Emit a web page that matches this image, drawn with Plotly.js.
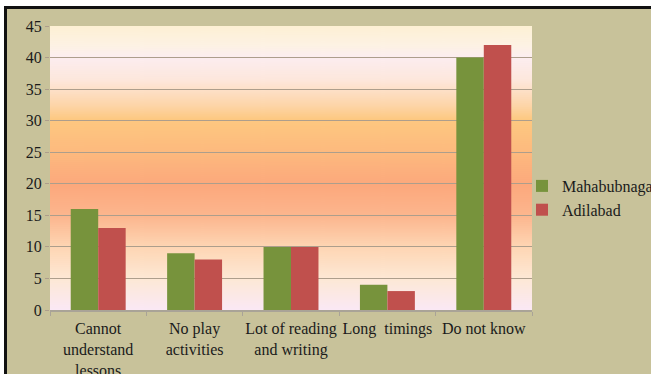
<!DOCTYPE html>
<html>
<head>
<meta charset="utf-8">
<script src="https://cdn.plot.ly/plotly-3.0.1.min.js"></script>
<style>
html,body{margin:0;padding:0;background:#c8c29a;}
#chart{width:651px;height:374px;}
</style>
</head>
<body>
<div id="chart"></div>
<script>
// ---- data ----
var categories = ["Cannot<br>understand<br>lessons", "No play<br>activities", "Lot of reading<br>and writing", "Long  timings", "Do not know"];
var mahabubnagar = [16, 9, 10, 4, 40];
var adilabad = [13, 8, 10, 3, 42];
var seriesNames = ["Mahabubnagar", "Adilabad"];
var yTicks = [0, 5, 10, 15, 20, 25, 30, 35, 40, 45];

// ---- geometry helpers ----
var W = 651, H = 374;
var M = {l: 50, r: 119, t: 26, b: 64, autoexpand: false};
var PW = W - M.l - M.r, PH = H - M.t - M.b;
function px(x) { return (x - M.l) / PW; }
function py(y) { return (H - M.b - y) / PH; }

// ---- gradient background for plot area ----
var cv = document.createElement('canvas');
cv.width = 8; cv.height = 284;
var ctx = cv.getContext('2d');
var g = ctx.createLinearGradient(0, 0, 0, 284);
var stops = [
  [0.00, '#fdf0d4'], [0.07, '#fdf2e4'], [0.11, '#fcedf0'], [0.19, '#fde7dc'],
  [0.28, '#fdd5a8'], [0.33, '#fdc880'], [0.44, '#fdba7e'], [0.56, '#fca87c'],
  [0.67, '#fcb68e'], [0.78, '#fed6b4'], [0.89, '#fde8d5'], [1.00, '#fae8f5']
];
stops.forEach(function(s){ g.addColorStop(s[0], s[1]); });
ctx.fillStyle = g;
ctx.fillRect(0, 0, 8, 284);
var gradURL = cv.toDataURL('image/png');

var serif = 'Liberation Serif, Times New Roman, serif';

var traces = [
  {type: 'bar', name: seriesNames[0], x: categories, y: mahabubnagar,
   marker: {color: '#77933c'}, hoverinfo: 'x+y'},
  {type: 'bar', name: seriesNames[1], x: categories, y: adilabad,
   marker: {color: '#c0504d'}, hoverinfo: 'x+y'}
];

var layout = {
  width: W, height: H,
  margin: M,
  paper_bgcolor: '#c8c29a',
  plot_bgcolor: 'rgba(0,0,0,0)',
  font: {family: serif, size: 16, color: '#1a1a1a'},
  barmode: 'group',
  bargap: 0.43,
  bargroupgap: 0,
  showlegend: true,
  legend: {
    x: px(522), y: py(169), xanchor: 'left', yanchor: 'top',
    bgcolor: 'rgba(0,0,0,0)', borderwidth: 0,
    font: {family: serif, size: 16, color: '#1a1a1a'},
    itemwidth: 30, tracegroupgap: 0
  },
  xaxis: {
    type: 'category',
    automargin: false,
    tickangle: 0,
    showgrid: false,
    showline: true, linecolor: '#a9a397', linewidth: 2,
    ticks: 'outside', tickson: 'boundaries', ticklen: 4, tickcolor: '#a9a397',
    ticklabelstandoff: 3,
    tickfont: {family: serif, size: 16, color: '#1a1a1a'},
    zeroline: false
  },
  yaxis: {
    automargin: false,
    range: [0, 45],
    tickvals: yTicks,
    showgrid: true, gridcolor: '#ad9e8c', gridwidth: 1,
    zeroline: false,
    showline: false,
    ticks: 'outside', ticklen: 4, tickcolor: '#ad9e8c',
    tickfont: {family: serif, size: 16, color: '#1a1a1a'}
  },
  images: [{
    source: gradURL, xref: 'paper', yref: 'paper',
    x: 0, y: 1, sizex: 1, sizey: 1, xanchor: 'left', yanchor: 'top',
    sizing: 'stretch', layer: 'below'
  }],
  shapes: [
    {type: 'rect', xref: 'paper', yref: 'paper', x0: px(0), x1: px(W), y0: py(0), y1: py(6),
     fillcolor: '#ffffff', line: {width: 0}, layer: 'above'},
    {type: 'rect', xref: 'paper', yref: 'paper', x0: px(0), x1: px(4), y0: py(0), y1: py(H),
     fillcolor: '#ffffff', line: {width: 0}, layer: 'above'},
    {type: 'rect', xref: 'paper', yref: 'paper', x0: px(4), x1: px(W), y0: py(6), y1: py(9),
     fillcolor: '#111111', line: {width: 0}, layer: 'above'},
    {type: 'rect', xref: 'paper', yref: 'paper', x0: px(4), x1: px(7), y0: py(6), y1: py(H),
     fillcolor: '#111111', line: {width: 0}, layer: 'above'}
  ]
};

Plotly.newPlot('chart', traces, layout, {displayModeBar: false, staticPlot: true});
</script>
</body>
</html>
